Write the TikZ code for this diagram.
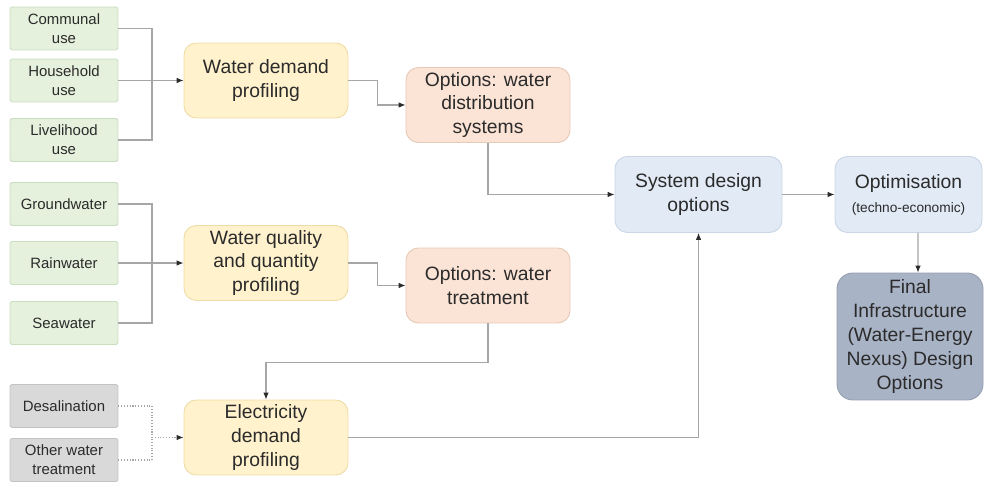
\documentclass[tikz,border=0pt]{standalone}
\usepackage{fontspec}
\setmainfont{Liberation Sans}
\usetikzlibrary{arrows.meta,calc}

\definecolor{usefill}{HTML}{E5F0DD}
\definecolor{usedraw}{HTML}{CADDBF}
\definecolor{profill}{HTML}{FFF2CC}
\definecolor{prodraw}{HTML}{EEDCA6}
\definecolor{optfill}{HTML}{FBE4D6}
\definecolor{optdraw}{HTML}{E6C9B6}
\definecolor{sysfill}{HTML}{E1EAF5}
\definecolor{sysdraw}{HTML}{C9D6E6}
\definecolor{finfill}{HTML}{A9B3C6}
\definecolor{findraw}{HTML}{949EB1}
\definecolor{elefill}{HTML}{D9D9D9}
\definecolor{eledraw}{HTML}{C4C4C4}
\definecolor{linkgray}{HTML}{A6A6A6}
\definecolor{txt}{HTML}{2B2B2B}

\tikzset{
	smallbox/.style={draw, line width=0.5pt, rounded corners=1pt, minimum width=2.16cm,
		minimum height=0.86cm, inner sep=0pt, align=center, text=txt,
		font=\fontsize{8.5}{10.8}\selectfont},
	usebox/.style={smallbox, draw=usedraw, fill=usefill},
	elebox/.style={smallbox, draw=eledraw, fill=elefill},
	bigbox/.style={draw, line width=0.5pt, rounded corners=7pt, minimum width=3.28cm,
		minimum height=1.5cm, inner sep=0pt, align=center, text=txt,
		font=\fontsize{11}{13.6}\selectfont},
	probox/.style={bigbox, draw=prodraw, fill=profill},
	optbox/.style={bigbox, draw=optdraw, fill=optfill},
	sysbox/.style={bigbox, draw=sysdraw, fill=sysfill},
	finbox/.style={bigbox, draw=findraw, fill=finfill, rounded corners=9pt},
	link/.style={draw=linkgray, line width=0.6pt},
	linkarrow/.style={link, -{Latex[length=4pt,width=3.2pt,color=txt]}},
	dotlink/.style={link, densely dotted},
	dotarrow/.style={linkarrow, densely dotted}
}

\begin{document}
\begin{tikzpicture}[x=0.02cm, y=-0.02cm]
		\useasboundingbox (0,0) rectangle (986,482);
		
		%Nodes: water uses
		\node (communal) at (64,28.5) [usebox]{Communal\\use};
		\node (household) at (64,80.5) [usebox]{Household\\use};
		\node (livelihood) at (64,140) [usebox]{Livelihood\\use};
		
		%Nodes: water sources
		\node (ground) at (64,204) [usebox]{Groundwater};
		\node (rain) at (64,263) [usebox]{Rainwater};
		\node (sea) at (64,323) [usebox]{Seawater};
		
		%Nodes: electricity uses
		\node (desal) at (64,406) [elebox]{Desalination};
		\node (otherwt) at (64,460) [elebox]{Other water\\treatment};
		
		%Profiling
		\node (demand) at (266,80.5) [probox]{Water demand\\profiling};
		\node (quality) at (266,263) [probox]{Water quality\\and quantity\\profiling};
		\node (electricity) at (266,437.5) [probox]{Electricity\\demand\\profiling};
		
		%Options
		\node (distrib) at (488,105) [optbox]{Options: water\\distribution\\systems};
		\node (treat) at (488,285.5) [optbox]{Options: water\\treatment};
		
		\node (sysdesign) at (698.5,194.5) [sysbox, minimum width=3.34cm, minimum height=1.52cm]
		{System design\\options};
		
		\node (optim) at (908.5,194.5) [sysbox, minimum width=2.94cm, minimum height=1.52cm]
		{Optimisation\\{\fontsize{7.8}{9}\selectfont(techno-economic)}};
		
		\node (final) at (910,336.5) [finbox, minimum width=2.92cm, minimum height=2.54cm]
		{Final\\Infrastructure\\(Water-Energy\\Nexus) Design\\Options};
		
		%Junctions
		\coordinate (usejoin) at (152,80.5);
		\coordinate (srcjoin) at (152,263);
		\coordinate (elejoin) at (152,437.5);
		
		%Links into profiling
		\draw[link] (communal.east) -| (usejoin);
		\draw[link] (livelihood.east) -| (usejoin);
		\draw[linkarrow] (household.east) -- (demand.west);
		
		\draw[link] (ground.east) -| (srcjoin);
		\draw[link] (sea.east) -| (srcjoin);
		\draw[linkarrow] (rain.east) -- (quality.west);
		
		\draw[dotlink] (desal.east) -| (elejoin);
		\draw[dotlink] (otherwt.east) -| (elejoin);
		\draw[dotarrow] (elejoin) -- (electricity.west);
		
		%Links to options
		\draw[linkarrow] (demand.east) -- ++(29,0) |- (distrib.west);
		\draw[linkarrow] (quality.east) -- ++(29,0) |- (treat.west);
		\draw[linkarrow] (treat.south) -- ++(0,39) -| (electricity.north);
		
		%Links to system design
		\draw[linkarrow] (distrib.south) |- (sysdesign.west);
		\draw[linkarrow] (electricity.east) -| (sysdesign.south);
		\draw[linkarrow] (sysdesign.east) -- (optim.west);
		\draw[linkarrow] ($(optim.south)+(9.5,0)$) -- ($(final.north)+(8,0)$);
\end{tikzpicture}
\end{document}
